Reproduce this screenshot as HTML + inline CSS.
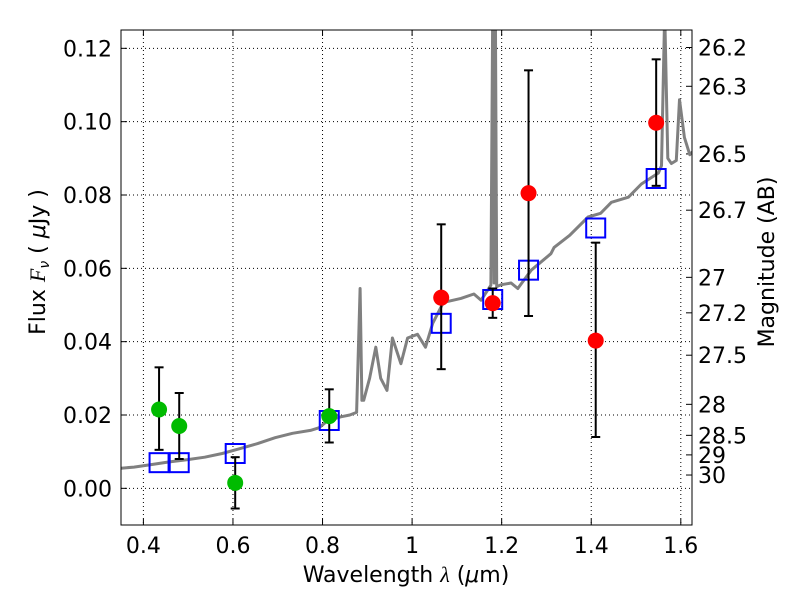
<!DOCTYPE html>
<html><head><meta charset="utf-8"><style>
html,body{margin:0;padding:0;background:#fff;}
svg{display:block;font-family:"DejaVu Sans","Liberation Sans",sans-serif;}
</style></head><body>
<svg id="chart" width="800" height="600"></svg>
<script>
const specLam=[0.35,0.379,0.419,0.458,0.497,0.537,0.576,0.615,0.655,0.694,0.733,0.773,0.792,0.812,0.841,0.861,0.876,0.884,0.888,0.892,0.905,0.919,0.930,0.944,0.956,0.975,0.990,1.012,1.030,1.046,1.070,1.109,1.138,1.154,1.176,1.180,1.183,1.186,1.189,1.198,1.221,1.236,1.266,1.310,1.317,1.352,1.393,1.421,1.445,1.483,1.512,1.550,1.557,1.564,1.571,1.579,1.590,1.597,1.608,1.620,1.628];
const specFlux=[0.0055,0.0058,0.0065,0.0072,0.0078,0.0085,0.0095,0.0108,0.0122,0.0138,0.0150,0.0158,0.0165,0.0185,0.0195,0.0200,0.0207,0.0545,0.024,0.024,0.030,0.0385,0.030,0.0267,0.041,0.034,0.041,0.042,0.0385,0.045,0.0507,0.0518,0.053,0.0513,0.0554,0.13,0.056,0.13,0.055,0.0555,0.056,0.0545,0.0595,0.064,0.0657,0.069,0.074,0.075,0.078,0.0794,0.083,0.086,0.088,0.13,0.09,0.0886,0.0894,0.106,0.0957,0.091,0.092];
const ptLam=[0.435,0.48,0.605,0.815,1.065,1.18,1.26,1.41,1.545];
const ptFlux=[0.0215,0.017,0.0015,0.0197,0.052,0.0505,0.0805,0.0403,0.0997];
const ptHi=[0.033,0.026,0.0085,0.027,0.072,0.0545,0.114,0.067,0.117];
const ptLo=[0.0105,0.008,-0.0055,0.0125,0.0325,0.0465,0.047,0.014,0.0825];
const ptColor=['#00bb00','#00bb00','#00bb00','#00bb00','#ff0000','#ff0000','#ff0000','#ff0000','#ff0000'];
const modelFlux=[0.007,0.007,0.0095,0.0185,0.045,0.0515,0.0595,0.071,0.0845];
const xTicks=[0.4,0.6,0.8,1.0,1.2,1.4,1.6];
const xTickLabels=['0.4','0.6','0.8','1','1.2','1.4','1.6'];
const yTicks=[0,0.02,0.04,0.06,0.08,0.10,0.12];
const yTickLabels=['0.00','0.02','0.04','0.06','0.08','0.10','0.12'];
const magTicks=[26.2,26.3,26.5,26.7,27,27.2,27.5,28,28.5,29,30];

const L=121,R=692,T=30,B=525,X0=0.35,X1=1.625,Y0=-0.01,Y1=0.125;
const sx=v=>L+(v-X0)/(X1-X0)*(R-L);
const sy=v=>B-(v-Y0)/(Y1-Y0)*(B-T);
const NS='http://www.w3.org/2000/svg';
const svg=document.getElementById('chart');
function mk(tag,attrs,parent){const e=document.createElementNS(NS,tag);for(const k in attrs)e.setAttribute(k,attrs[k]);(parent||svg).appendChild(e);return e;}

const clip=mk('clipPath',{id:'pc'});mk('rect',{x:L,y:T,width:R-L,height:B-T},clip);
xTicks.forEach((t,i)=>{
  const g=mk('line',{x1:sx(t),x2:sx(t),y1:T,y2:B,stroke:'#000','stroke-width':1,'stroke-dasharray':'1,3'});
  
  
  const tk=mk('line',{x1:sx(t),x2:sx(t),y1:B,y2:B-6,stroke:'#000'});
  
  
  mk('line',{x1:sx(t),x2:sx(t),y1:T,y2:T+6,stroke:'#000'});
  const tx=mk('text',{x:sx(t),y:B+28,'text-anchor':'middle','font-size':22});
  tx.textContent=xTickLabels[i];
  
  
});
yTicks.forEach((t,i)=>{
  const g=mk('line',{x1:L,x2:R,y1:sy(t),y2:sy(t),stroke:'#000','stroke-width':1,'stroke-dasharray':'1,3'});
  
  
  mk('line',{x1:L,x2:L+6,y1:sy(t),y2:sy(t),stroke:'#000'});
  const tx=mk('text',{x:L-9,y:sy(t)+8,'text-anchor':'end','font-size':22});
  tx.textContent=yTickLabels[i];
  
  
});
magTicks.forEach(m=>{
  const f=Math.pow(10,-0.4*(m-23.9));
  const y=sy(f);
  mk('line',{x1:R,x2:R-6,y1:y,y2:y,stroke:'#000'});
  const tx=mk('text',{x:R+6,y:y+8,'font-size':22});
  tx.textContent=String(m);
  
  
});
let d=specLam.map((l,i)=>(i?'L':'M')+sx(l).toFixed(1)+','+sy(specFlux[i]).toFixed(1)).join('');
const sp=mk('path',{d:d,fill:'none',stroke:'#808080','stroke-width':3,'clip-path':'url(#pc)','stroke-linejoin':'round'});


ptLam.forEach((l,i)=>{
  const r=mk('rect',{x:sx(l)-9.5,y:sy(modelFlux[i])-9.5,width:19,height:19,fill:'none',stroke:'#0000ff','stroke-width':2});
  
  
});
ptLam.forEach((l,i)=>{
  const x=sx(l);
  const eb=mk('g',{stroke:'#000','stroke-width':2});
  
  
  mk('line',{x1:x,x2:x,y1:sy(ptHi[i]),y2:sy(ptLo[i])},eb);
  mk('line',{x1:x-4.5,x2:x+4.5,y1:sy(ptHi[i]),y2:sy(ptHi[i])},eb);
  mk('line',{x1:x-4.5,x2:x+4.5,y1:sy(ptLo[i]),y2:sy(ptLo[i])},eb);
  const c=mk('circle',{cx:x,cy:sy(ptFlux[i]),r:8,fill:ptColor[i]});
  
  
});
const fr=mk('rect',{x:L,y:T,width:R-L,height:B-T,fill:'none',stroke:'#000','stroke-width':1});


const xl=mk('text',{x:406,y:582,'text-anchor':'middle','font-size':22});
xl.setAttribute('xml:space','preserve');
xl.innerHTML='Wavelength  <tspan font-style="italic" font-family="Liberation Serif, serif">λ</tspan> (<tspan font-style="italic">μ</tspan>m)';


const yl=mk('text',{x:0,y:0,'text-anchor':'middle','font-size':22,transform:'translate(45,262) rotate(-90)'});
yl.setAttribute('xml:space','preserve');
yl.innerHTML='Flux  <tspan font-style="italic" font-family="Liberation Serif, serif">F</tspan><tspan font-size="14" dy="4" font-style="italic">ν</tspan><tspan dy="-4">  (  <tspan font-style="italic">μ</tspan>Jy )</tspan>';


const rl=mk('text',{x:0,y:0,'text-anchor':'middle','font-size':22,transform:'translate(774,262) rotate(-90)'});
rl.textContent='Magnitude (AB)';


</script>
</body></html>
